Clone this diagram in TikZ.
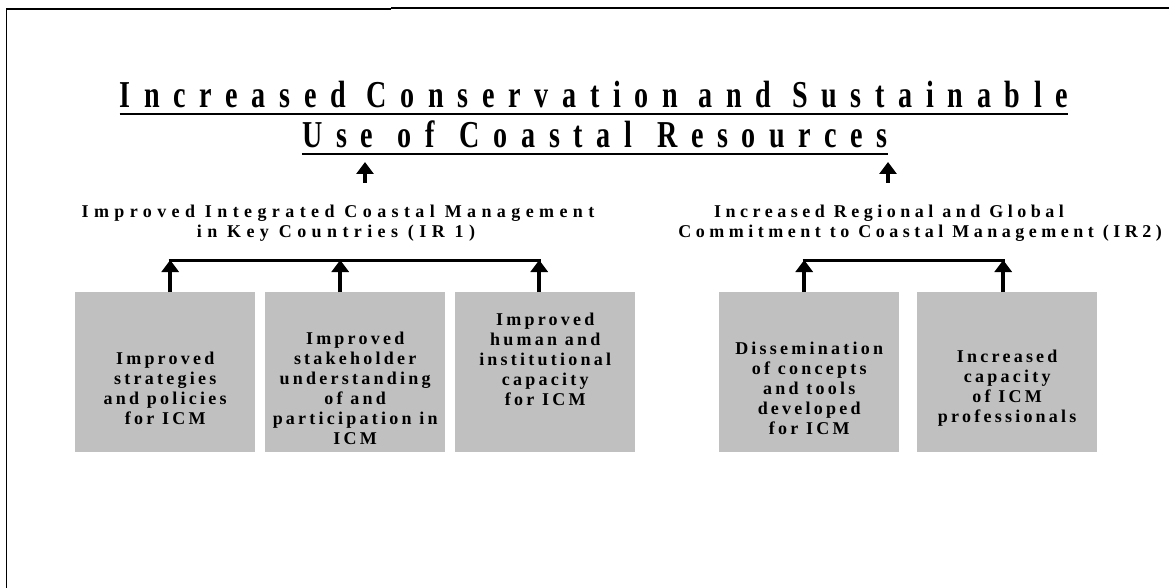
\documentclass[tikz,border=0pt]{standalone}
\usepackage{fontspec}
\setmainfont{Liberation Serif}
\newfontfamily\titlefont[LetterSpace=36,FakeStretch=0.74]{Liberation Serif}
\newfontfamily\lblfont[LetterSpace=30]{Liberation Serif}
\newfontfamily\lblfontb[LetterSpace=25]{Liberation Serif}
\newfontfamily\boxfont[LetterSpace=18]{Liberation Serif}
\usetikzlibrary{arrows.meta,calc}
\definecolor{boxgray}{RGB}{192,192,192}
\begin{document}
\begin{tikzpicture}[x=1pt,y=-1pt,
  gbox/.style={fill=boxgray,draw=none,minimum width=180pt,minimum height=160pt,inner sep=0pt,anchor=north west},
  btext/.style={align=center,inner sep=0pt,font=\boxfont\bfseries\fontsize{18}{20}\selectfont},
  ltext/.style={inner sep=0pt,font=\lblfont\bfseries\fontsize{18}{19}\selectfont,anchor=base},
  ltextb/.style={inner sep=0pt,font=\lblfontb\bfseries\fontsize{18}{19}\selectfont,anchor=base},
  ttext/.style={inner sep=0pt,font=\titlefont\bfseries\fontsize{38}{40}\selectfont,anchor=base},
  arr/.style={line width=4pt,-{Triangle[width=17pt,length=12pt]}},
  bar/.style={line width=3pt}]
\useasboundingbox (0,0) rectangle (1169,588);
% frame
\draw[line width=1.2pt] (6.5,588) -- (6.5,9) -- (391,9);
\draw[line width=2.2pt] (391,8) -- (1169,8);
% title
\node[ttext] (t1) at (594,108) {Increased Conservation and Sustainable};
\node[ttext] (t2) at (595,148) {Use\hspace{4pt} of\hspace{4pt} Coastal\hspace{4pt} Resources};
\draw[line width=2pt] ($(t1.base west)+(0,6)$) -- ($(t1.base east)+(0,6)$);
\draw[line width=2pt] ($(t2.base west)+(0,6)$) -- ($(t2.base east)+(0,6)$);
% IR labels
\node[ltext] (ir1a) at (338,218) {Improved Integrated Coastal Management};
\node[ltext] (ir1b) at (336,237) {in Key Countries (IR 1)};
\node[ltextb] (ir2a) at (889,218) {Increased Regional and Global};
\node[ltextb,anchor=base east] (ir2b) at (1162,237) {Commitment to Coastal Management (IR2)};
\coordinate (a1s) at (365,183);
\coordinate (a1e) at (365,162);
\coordinate (a2s) at (888,183);
\coordinate (a2e) at (888,162);
\draw[arr] (a1s) -- (a1e);
\draw[arr] (a2s) -- (a2e);
% boxes
\node[gbox] (b1) at (75,292) {};
\node[gbox] (b2) at (265,292) {};
\node[gbox] (b3) at (455,292) {};
\node[gbox] (b4) at (719,292) {};
\node[gbox] (b5) at (917,292) {};
\node[btext] (x1) at ($(b1.center)+(0,16)$) {Improved\\strategies\\and policies\\for ICM};
\node[btext] (x2) at ($(b2.center)+(0,16)$) {Improved\\stakeholder\\understanding\\of and\\participation in\\ICM};
\node[btext] (x3) at ($(b3.center)+(0,-13)$) {Improved\\human and\\institutional\\capacity\\for ICM};
\node[btext] (x4) at ($(b4.center)+(0,16)$) {Dissemination\\of concepts\\and tools\\developed\\for ICM};
\node[btext] (x5) at ($(b5.center)+(0,16)$) {Increased\\capacity\\of ICM\\professionals};
% brackets
\coordinate (l1) at (170,260);
\coordinate (r1) at (539,260);
\coordinate (l2) at (804,260);
\coordinate (r2) at (1003,260);
\draw[bar] ([xshift=-1.5pt]l1) -- ([xshift=1.5pt]r1);
\draw[bar] ([xshift=-1.5pt]l2) -- ([xshift=1.5pt]r2);
\draw[arr] ([xshift=5pt]b1.north) -- ([xshift=5pt]b1.north |- l1);
\draw[arr] ([xshift=-15pt]b2.north) -- ([xshift=-15pt]b2.north |- l1);
\draw[arr] ([xshift=-6pt]b3.north) -- ([xshift=-6pt]b3.north |- l1);
\draw[arr] ([xshift=-5pt]b4.north) -- ([xshift=-5pt]b4.north |- l2);
\draw[arr] ([xshift=-4pt]b5.north) -- ([xshift=-4pt]b5.north |- l2);
\end{tikzpicture}
\end{document}
